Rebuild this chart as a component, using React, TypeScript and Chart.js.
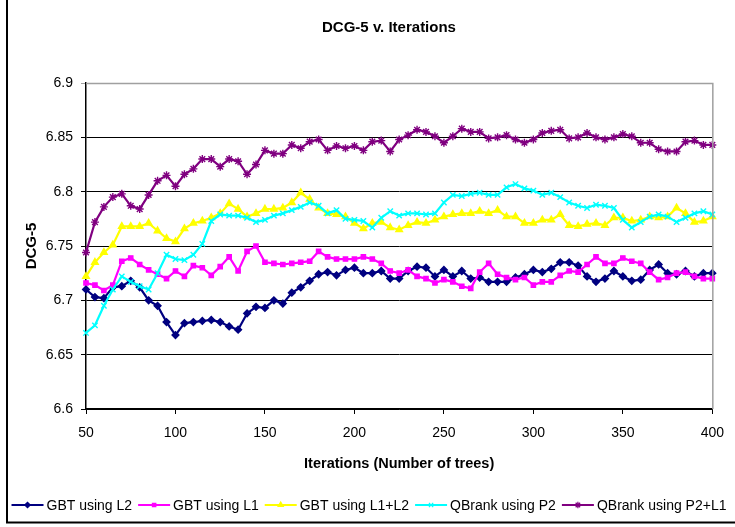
import React, { useEffect, useRef } from "react";
import { Chart, registerables } from "chart.js";
import { drawPoint } from "chart.js/helpers";

Chart.register(...registerables);

const iterations = [
  50, 55, 60, 65, 70, 75, 80, 85, 90, 95, 100, 105, 110, 115, 120, 125, 130, 135, 140, 145,
  150, 155, 160, 165, 170, 175, 180, 185, 190, 195, 200, 205, 210, 215, 220, 225, 230, 235, 240, 245,
  250, 255, 260, 265, 270, 275, 280, 285, 290, 295, 300, 305, 310, 315, 320, 325, 330, 335, 340, 345,
  350, 355, 360, 365, 370, 375, 380, 385, 390, 395, 400,
];

const gbtL2 = [
  6.710, 6.703, 6.702, 6.712, 6.713, 6.718, 6.712, 6.700, 6.695, 6.680,
  6.668, 6.679, 6.680, 6.681, 6.682, 6.680, 6.676, 6.673, 6.688, 6.694,
  6.693, 6.700, 6.697, 6.707, 6.712, 6.718, 6.724, 6.726, 6.723, 6.728,
  6.730, 6.725, 6.725, 6.727, 6.720, 6.720, 6.727, 6.731, 6.730, 6.722,
  6.728, 6.722, 6.727, 6.720, 6.721, 6.717, 6.717, 6.717, 6.721, 6.724,
  6.728, 6.726, 6.729, 6.735, 6.735, 6.732, 6.722, 6.717, 6.720, 6.727,
  6.722, 6.718, 6.719, 6.728, 6.733, 6.725, 6.724, 6.727, 6.722, 6.725,
  6.725,
];

const gbtL1 = [
  6.716, 6.714, 6.709, 6.714, 6.736, 6.739, 6.733, 6.728, 6.724, 6.720,
  6.727, 6.722, 6.732, 6.730, 6.723, 6.731, 6.740, 6.727, 6.745, 6.750,
  6.735, 6.734, 6.733, 6.734, 6.735, 6.736, 6.745, 6.740, 6.738, 6.738,
  6.738, 6.740, 6.738, 6.734, 6.727, 6.725, 6.728, 6.722, 6.720, 6.716,
  6.719, 6.717, 6.713, 6.711, 6.726, 6.734, 6.724, 6.721, 6.719, 6.721,
  6.714, 6.717, 6.717, 6.723, 6.727, 6.726, 6.733, 6.740, 6.734, 6.734,
  6.739, 6.736, 6.734, 6.726, 6.719, 6.721, 6.725, 6.726, 6.722, 6.720,
  6.720,
];

const gbtL1L2 = [
  6.722, 6.735, 6.744, 6.751, 6.768, 6.768, 6.768, 6.771, 6.764, 6.757,
  6.754, 6.766, 6.771, 6.773, 6.776, 6.780, 6.789, 6.784, 6.777, 6.780,
  6.784, 6.784, 6.785, 6.790, 6.799, 6.793, 6.785, 6.780, 6.779, 6.777,
  6.771, 6.766, 6.771, 6.772, 6.767, 6.765, 6.769, 6.772, 6.771, 6.774,
  6.777, 6.779, 6.780, 6.780, 6.782, 6.780, 6.783, 6.777, 6.777, 6.771,
  6.771, 6.774, 6.774, 6.779, 6.769, 6.768, 6.770, 6.771, 6.769, 6.776,
  6.776, 6.773, 6.774, 6.777, 6.776, 6.777, 6.785, 6.780, 6.772, 6.773,
  6.777,
];

const qbrankP2 = [
  6.670, 6.677, 6.695, 6.710, 6.722, 6.717, 6.713, 6.710, 6.725, 6.742,
  6.738, 6.737, 6.742, 6.752, 6.773, 6.779, 6.778, 6.778, 6.776, 6.772,
  6.774, 6.778, 6.780, 6.783, 6.786, 6.790, 6.787, 6.780, 6.783, 6.775,
  6.774, 6.773, 6.767, 6.776, 6.782, 6.778, 6.780, 6.780, 6.779, 6.780,
  6.790, 6.797, 6.796, 6.798, 6.799, 6.797, 6.797, 6.804, 6.807, 6.803,
  6.801, 6.797, 6.799, 6.795, 6.790, 6.787, 6.785, 6.788, 6.787, 6.785,
  6.774, 6.767, 6.772, 6.777, 6.779, 6.777, 6.772, 6.776, 6.780, 6.782,
  6.779,
];

const qbrankP2L1 = [
  6.744, 6.772, 6.786, 6.795, 6.798, 6.787, 6.784, 6.797, 6.810, 6.815,
  6.805, 6.816, 6.821, 6.830, 6.830, 6.823, 6.830, 6.828, 6.816, 6.825,
  6.838, 6.835, 6.835, 6.843, 6.840, 6.846, 6.848, 6.838, 6.842, 6.840,
  6.842, 6.838, 6.846, 6.847, 6.837, 6.848, 6.852, 6.857, 6.855, 6.851,
  6.845, 6.851, 6.858, 6.855, 6.855, 6.849, 6.850, 6.852, 6.848, 6.845,
  6.848, 6.854, 6.856, 6.857, 6.849, 6.850, 6.854, 6.850, 6.848, 6.850,
  6.853, 6.851, 6.845, 6.845, 6.839, 6.837, 6.837, 6.846, 6.847, 6.843,
  6.843,
];

const seriesLabels = [
  "GBT using L2",
  "GBT using L1",
  "GBT using L1+L2",
  "QBrank using P2",
  "QBrank using P2+L1",
];
const seriesValues = [gbtL2, gbtL1, gbtL1L2, qbrankP2, qbrankP2L1];
const seriesColors = ["#000080", "#FF00FF", "#FFFF00", "#00FFFF", "#800080"];
const seriesMarkers = ["rectRot", "rect", "triangle", "crossRot", "star"];
const seriesRadius = [3.4, 3, 3.8, 3.8, 4];

const yTickValues = [6.6, 6.65, 6.7, 6.75, 6.8, 6.85, 6.9];
const xTickValues = [50, 100, 150, 200, 250, 300, 350, 400];

const chartTitle = "DCG-5 v. Iterations";
const xTitle = "Iterations (Number of trees)";
const yTitle = "DCG-5";

const FONT = "'Liberation Sans', Arial, sans-serif";

const decorPlugin = {
  id: "decor",
  beforeDraw(chart: any) {
    const { ctx, width, height } = chart;
    ctx.save();
    ctx.fillStyle = "#ffffff";
    ctx.fillRect(0, 0, width, height);
    ctx.restore();
  },
  afterDraw(chart: any) {
    const { ctx, chartArea: ca } = chart;
    ctx.save();
    // plot area top & right border (gray)
    ctx.strokeStyle = "#a0a0a0";
    ctx.lineWidth = 1.5;
    ctx.beginPath();
    ctx.moveTo(ca.left, ca.top + 0.5);
    ctx.lineTo(ca.right + 0.5, ca.top + 0.5);
    ctx.lineTo(ca.right + 0.5, ca.bottom);
    ctx.stroke();

    // outer frame (left and bottom visible)
    ctx.strokeStyle = "#000000";
    ctx.lineWidth = 2;
    ctx.beginPath();
    ctx.moveTo(7, 0);
    ctx.lineTo(7, 522.5);
    ctx.lineTo(735, 522.5);
    ctx.stroke();

    // title
    ctx.fillStyle = "#000000";
    ctx.font = `bold 15px ${FONT}`;
    ctx.textAlign = "center";
    ctx.textBaseline = "middle";
    ctx.fillText(chartTitle, 389, 28);

    // legend
    ctx.font = `14px ${FONT}`;
    ctx.textAlign = "left";
    const lineLen = 32;
    const gapText = 3;
    const gapItem = 6;
    const ds = chart.data.datasets;
    let total = 0;
    const widths = ds.map((d: any) => ctx.measureText(d.label).width);
    widths.forEach((w: number) => (total += lineLen + gapText + w + gapItem));
    total -= gapItem;
    let x = 369 - total / 2;
    const y = 505;
    ds.forEach((d: any, i: number) => {
      ctx.strokeStyle = d.borderColor;
      ctx.lineWidth = 2;
      ctx.beginPath();
      ctx.moveTo(x, y);
      ctx.lineTo(x + lineLen, y);
      ctx.stroke();
      ctx.fillStyle = d.pointBackgroundColor;
      ctx.strokeStyle = d.pointBorderColor;
      ctx.lineWidth = 1.2;
      drawPoint(ctx, { pointStyle: d.pointStyle, rotation: 0, radius: d.pointRadius * 0.8, borderWidth: 1.2 }, x + lineLen / 2, y);
      ctx.fillStyle = "#000000";
      ctx.fillText(d.label, x + lineLen + gapText, y + 1);
      x += lineLen + gapText + widths[i] + gapItem;
    });
    ctx.restore();
  },
};

export default function App() {
  const canvasRef = useRef<HTMLCanvasElement | null>(null);

  useEffect(() => {
    document.body.style.margin = "0";
    const canvas = canvasRef.current;
    if (!canvas) return;

    const datasets = seriesLabels.map((label, i) => ({
      label,
      data: iterations.map((it, j) => ({ x: it, y: seriesValues[i][j] })),
      borderColor: seriesColors[i],
      backgroundColor: seriesColors[i],
      pointBackgroundColor: seriesColors[i],
      pointBorderColor: seriesColors[i],
      pointStyle: seriesMarkers[i],
      pointRadius: seriesRadius[i],
      pointBorderWidth: 1.4,
      borderWidth: 2.2,
      tension: 0,
      order: 4 - i,
      clip: 5,
    }));

    const chart = new Chart(canvas, {
      type: "line",
      data: { datasets },
      plugins: [decorPlugin],
      options: {
        animation: false,
        responsive: false,
        maintainAspectRatio: false,
        events: [],
        layout: { padding: { top: 83, right: 15, bottom: 48, left: 0 } },
        plugins: {
          legend: { display: false },
          title: { display: false },
          tooltip: { enabled: false },
        },
        scales: {
          x: {
            type: "linear",
            min: 50,
            max: 400,
            afterFit(scale: any) {
              scale.height = 70;
            },
            afterBuildTicks(scale: any) {
              scale.ticks = xTickValues.map((v) => ({ value: v }));
            },
            grid: {
              display: true,
              drawOnChartArea: false,
              drawTicks: true,
              tickLength: 5,
              color: "#000000",
            },
            border: { display: true, color: "#000000", width: 1.5 },
            ticks: {
              color: "#000000",
              font: { family: FONT, size: 14 },
              padding: 11,
              maxRotation: 0,
              autoSkip: false,
            },
            title: {
              display: true,
              text: xTitle,
              color: "#000000",
              font: { family: FONT, size: 14.5, weight: "bold" },
              padding: { top: 0, bottom: 6 },
            },
          },
          y: {
            type: "linear",
            min: 6.6,
            max: 6.9,
            afterFit(scale: any) {
              scale.width = 86;
            },
            afterBuildTicks(scale: any) {
              scale.ticks = yTickValues.map((v) => ({ value: v }));
            },
            grid: {
              display: true,
              drawTicks: true,
              tickLength: 5,
              lineWidth: 1,
              color: (c: any) =>
                c.tick && Math.abs(c.tick.value - 6.9) < 1e-6 ? "#a0a0a0" : "#000000",
            },
            border: { display: true, color: "#000000", width: 1.5 },
            ticks: {
              color: "#000000",
              font: { family: FONT, size: 14 },
              padding: 8,
              callback: (v: any) => String(Number(Number(v).toFixed(2))),
            },
            title: {
              display: true,
              text: yTitle,
              color: "#000000",
              font: { family: FONT, size: 15, weight: "bold" },
              padding: { top: 23, bottom: 0 },
            },
          },
        },
      },
    });

    return () => {
      chart.destroy();
    };
  }, []);

  return (
    <div style={{ width: 735, height: 527, position: "relative" }}>
      <canvas ref={canvasRef} width={735} height={527} style={{ display: "block" }} />
    </div>
  );
}
